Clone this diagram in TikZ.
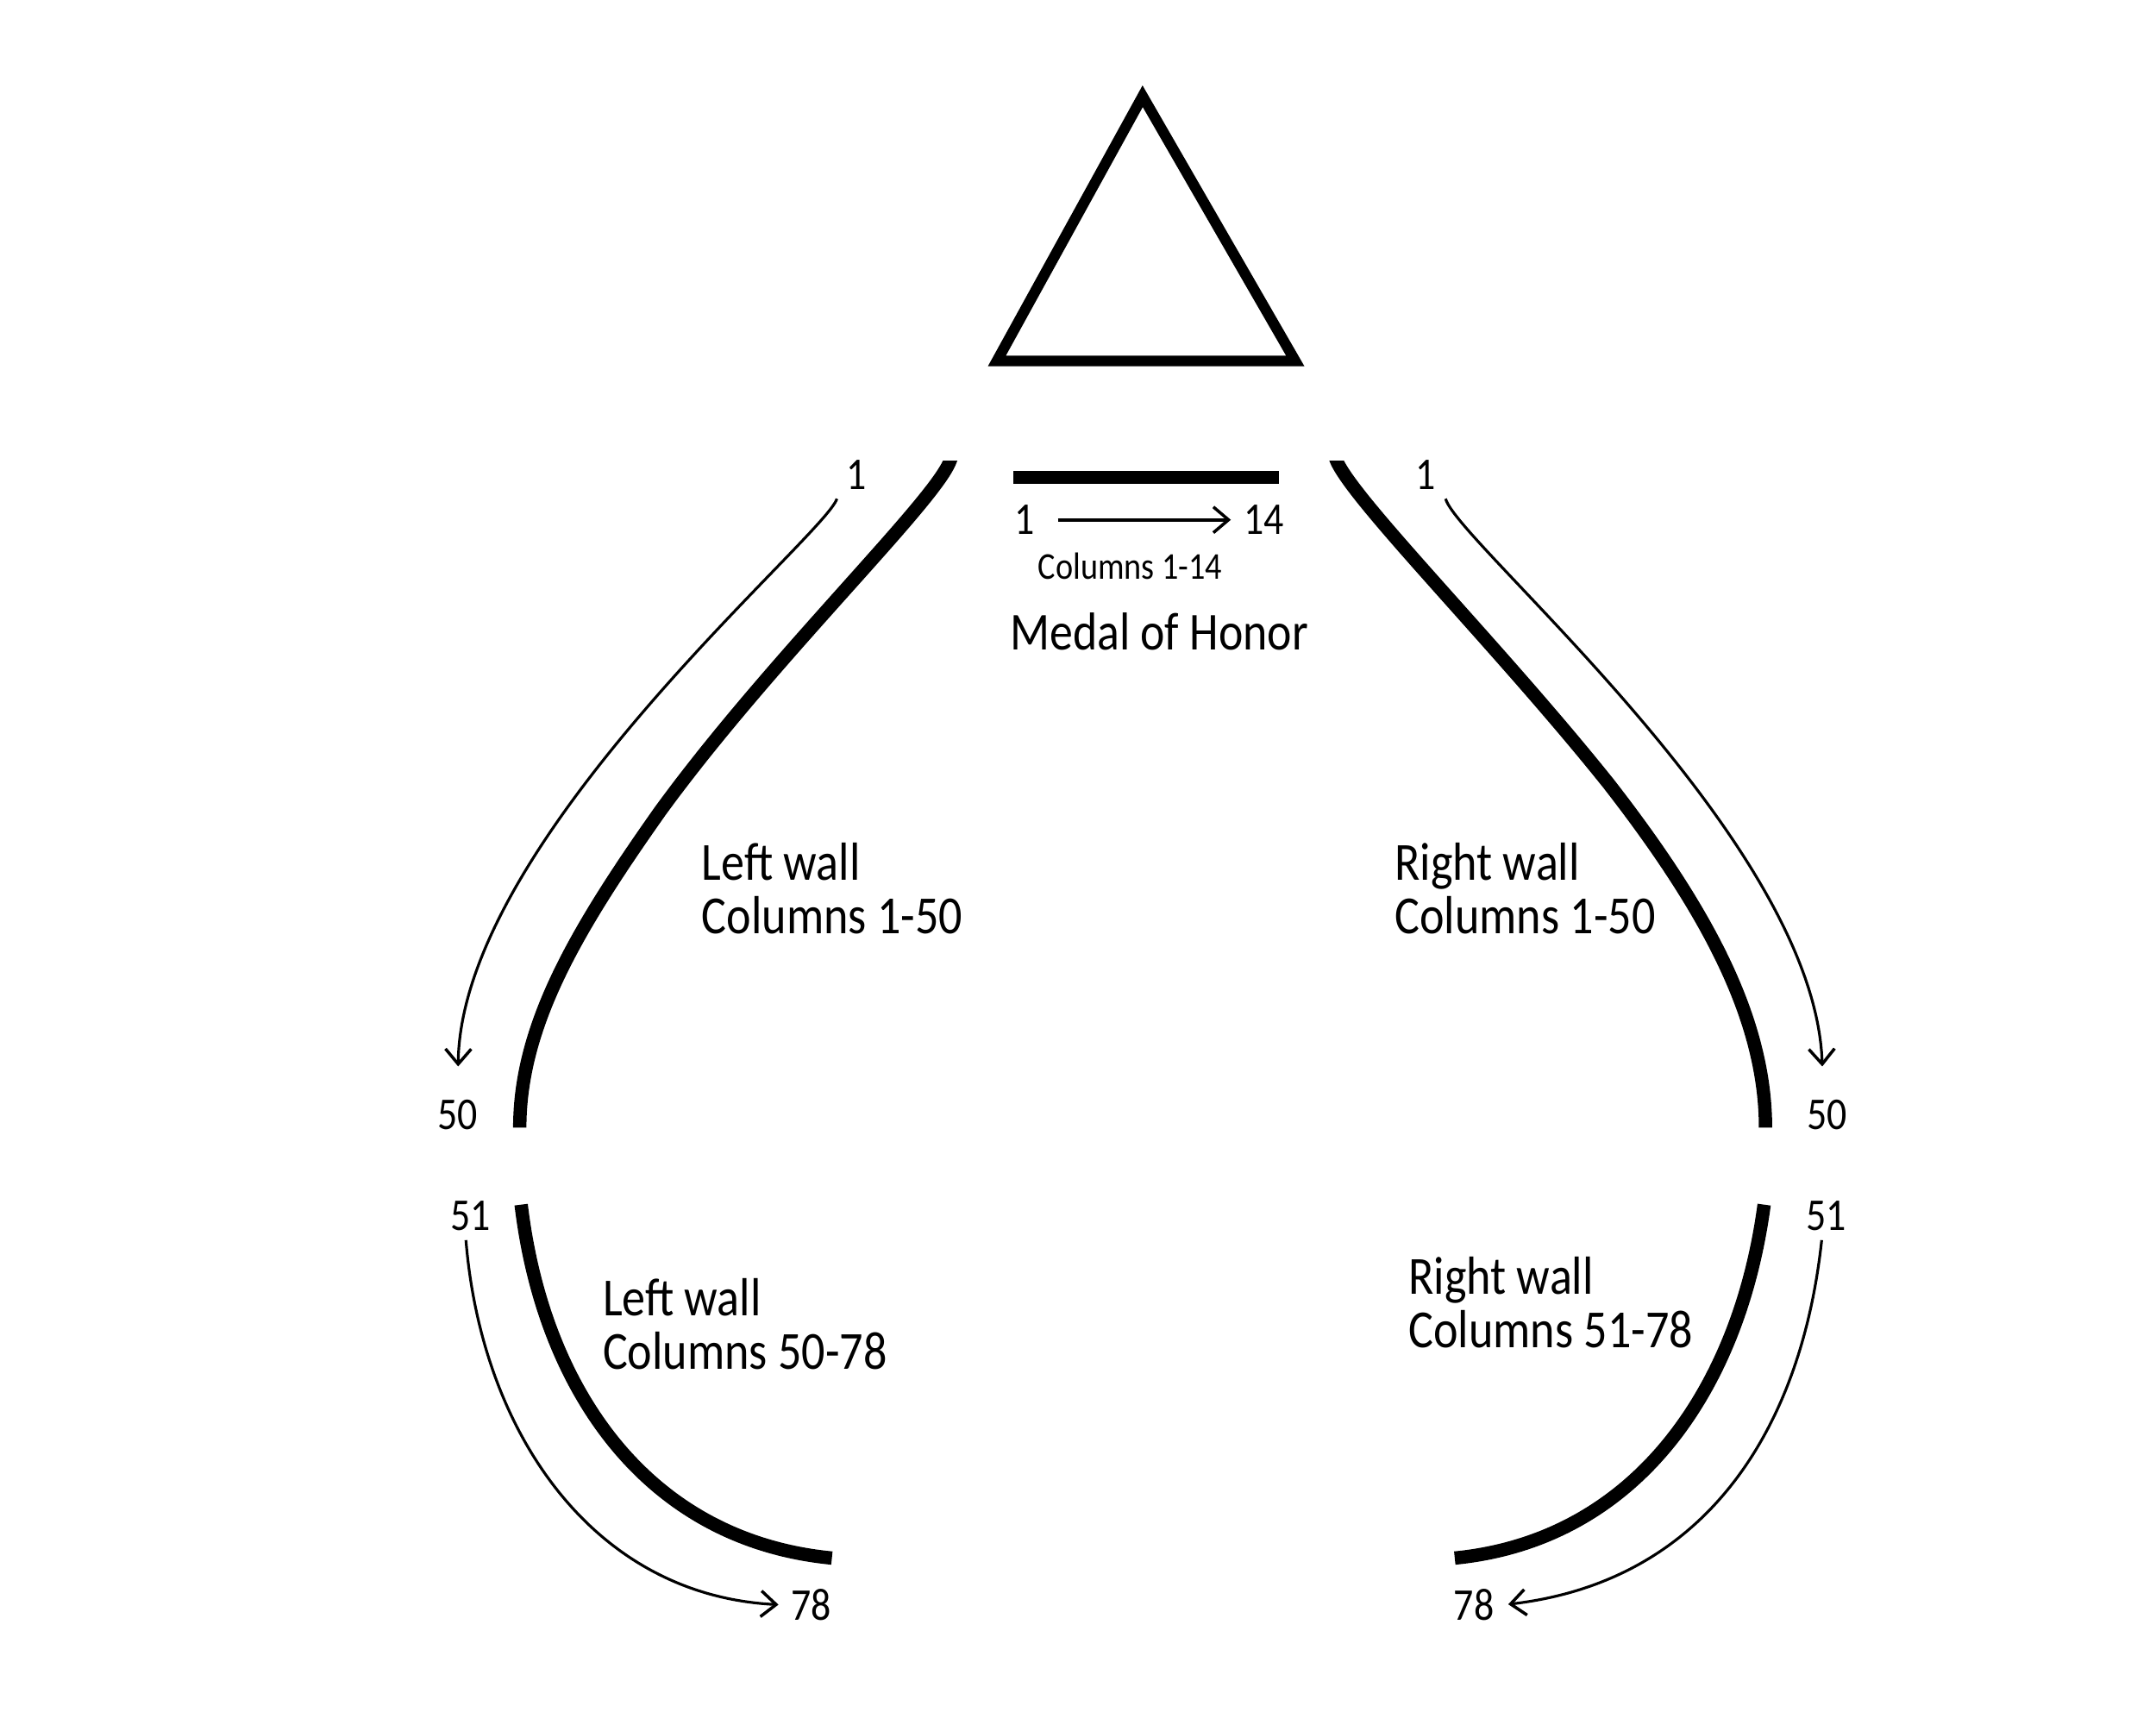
\documentclass[tikz,border=0pt]{standalone}
\usepackage{fontspec}
\setmainfont[FakeStretch=0.87]{Carlito}
\usetikzlibrary{arrows.meta}

\tikzset{
  wall/.style={line width=4.4pt},
  thinarrow/.style={line width=0.9pt,-{Straight Barb[length=5pt,width=8.5pt,line width=1pt]}},
  num/.style={inner sep=3pt,font=\fontsize{15}{18}\selectfont},
  lab/.style={inner sep=0pt,anchor=west,align=left,font=\fontsize{17.7}{17.6}\selectfont},
}

\begin{document}
\begin{tikzpicture}[x=0.015944cm,y=-0.015944cm]
\useasboundingbox (0,0) rectangle (1568,1254);
% memorial
\draw [line width=3.5pt,line join=miter] (831,70) -- (942,262.5) -- (725,262.5) -- cycle;
\draw [wall] (737,347) -- (930,347);
\node [num] (top1) at (745,378) {1};
\node [num] (top14) at (919,378) {14};
\node [inner sep=0pt,font=\fontsize{12.5}{16}\selectfont] (colsTop) at (822,412) {Columns 1-14};
\node [inner sep=0pt,font=\fontsize{17.6}{22}\selectfont] (medal) at (843,459) {Medal of Honor};
\draw [thinarrow,line width=1.1pt,shorten <=4.5pt,shorten >=1pt] (top1) -- (top14);
% walls
\begin{scope}
\clip (0,335) rectangle (1568,1254);
\draw [wall] (695,325) -- (691,335) .. controls (680,365) and (560,480) .. (480,590) .. controls (420,675) and (378,745) .. (378,820);
\draw [wall] (968,325) -- (972,335) .. controls (985,365) and (1090,470) .. (1170,570) .. controls (1240,660) and (1284,740) .. (1284,820);
\end{scope}
\draw [wall] (379,876) .. controls (395,1010) and (470,1120) .. (605,1133);
\draw [wall] (1283,876) .. controls (1265,1010) and (1190,1120) .. (1058,1133);
% numbers
\node [num] (lTop) at (623,345) {1};
\node [num] (rTop) at (1037,345) {1};
\node [num] (l50) at (333,811) {50};
\node [num] (r50) at (1329,811) {50};
\node [num] (l51) at (342,884) {51};
\node [num] (r51) at (1328,884) {51};
\node [num] (l78) at (590,1167) {78};
\node [num] (r78) at (1072,1167) {78};
\draw [thinarrow,shorten >=8pt] (lTop.south west) .. controls (600,390) and (335,610) .. (l50.north);
\draw [thinarrow,shorten >=8pt] (rTop.south east) .. controls (1060,395) and (1320,610) .. (r50.100);
\draw [thinarrow,shorten >=1pt] (l51.260) .. controls (350,1040) and (430,1160) .. (l78.west);
\draw [thinarrow,shorten >=1.5pt] (r51.260) .. controls (1310,1040) and (1240,1150) .. (r78.east);
% labels
\node [lab] (lUpper) at (510,646) {Left wall\\Columns 1-50};
\node [lab] (rUpper) at (1014,646) {Right wall\\Columns 1-50};
\node [lab] (lLower) at (438,963) {Left wall\\Columns 50-78};
\node [lab] (rLower) at (1024,947) {Right wall\\Columns 51-78};
\end{tikzpicture}
\end{document}
